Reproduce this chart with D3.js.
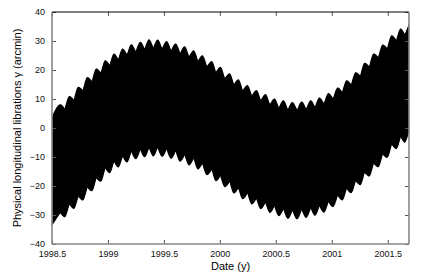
<!DOCTYPE html>
<html>
<head>
<meta charset="utf-8">
<script src="https://cdn.jsdelivr.net/npm/d3@7"></script>
<style>
body { margin: 0; background: #fff; }
text { font-family: "Liberation Sans", Arial, sans-serif; }
</style>
</head>
<body>
<div id="chart"></div>
<script>
// monthly maxima of the top edge / minima spikes of the bottom edge
var peakDates = [1998.574, 1998.655, 1998.735, 1998.816, 1998.896, 1998.976,
  1999.054, 1999.131, 1999.209, 1999.289, 1999.367, 1999.444, 1999.524, 1999.605,
  1999.685, 1999.766, 1999.843, 1999.927, 2000.004, 2000.087, 2000.165, 2000.246,
  2000.326, 2000.407, 2000.487, 2000.568, 2000.648, 2000.731, 2000.812, 2000.889,
  2000.970, 2001.053, 2001.133, 2001.214, 2001.294, 2001.375, 2001.455, 2001.536,
  2001.616, 2001.69];
var upperPeaks = [8.2, 11.0, 14.2, 17.6, 20.5, 23.4, 25.7, 27.4, 28.9, 29.7,
  30.6, 30.5, 30.0, 29.1, 28.2, 26.8, 25.1, 23.1, 21.1, 18.9,
  16.8, 14.8, 13.1, 11.7, 10.2, 9.6, 9.0, 9.1, 9.6, 10.5,
  12.1, 14.0, 16.5, 19.2, 22.5, 25.7, 28.8, 32.0, 34.3, 36.0];
var lowerSpikes = [-29.4, -26.5, -23.7, -20.6, -17.4, -14.0, -11.6, -9.9, -8.3, -7.6,
  -7.0, -6.9, -7.4, -8.1, -9.5, -10.6, -12.4, -14.5, -16.6, -18.6,
  -20.9, -22.6, -24.5, -25.9, -27.1, -28.1, -28.6, -28.3, -27.8, -27.1,
  -25.6, -23.4, -21.0, -18.4, -15.4, -12.3, -9.1, -5.8, -3.2, -1.4];

// dates between the monthly maxima
var notchDates = [1998.5, 1998.614, 1998.695, 1998.775, 1998.856, 1998.936,
  1999.015, 1999.092, 1999.170, 1999.249, 1999.328, 1999.405, 1999.484, 1999.564,
  1999.645, 1999.725, 1999.804, 1999.885, 1999.965, 2000.045, 2000.126, 2000.205,
  2000.286, 2000.366, 2000.447, 2000.527, 2000.608, 2000.690, 2000.771, 2000.850,
  2000.930, 2001.011, 2001.093, 2001.173, 2001.254, 2001.334, 2001.415, 2001.495,
  2001.576, 2001.652];
var upperNotches = [4.0, 6.8, 9.8, 13.1, 16.2, 19.2, 21.8, 23.8, 25.4, 26.5,
  27.4, 27.8, 27.5, 26.8, 25.9, 24.7, 23.2, 21.3, 19.3, 17.2,
  15.1, 13.0, 11.2, 9.6, 8.2, 7.1, 6.5, 6.3, 6.6, 7.3,
  8.5, 10.3, 12.5, 15.1, 18.1, 21.3, 24.5, 27.6, 30.4, 32.4];
var lowerBulges = [-33.7, -30.8, -27.9, -25.0, -21.8, -18.5, -15.6, -13.6, -11.9, -10.8,
  -10.1, -9.8, -9.9, -10.6, -11.6, -12.9, -14.3, -16.3, -18.4, -20.4,
  -22.6, -24.6, -26.4, -28.0, -29.3, -30.4, -31.3, -31.5, -31.0, -30.3,
  -29.2, -27.3, -25.0, -22.5, -19.7, -16.7, -13.5, -10.3, -7.3, -5.1];

var xTicks = [1998.5, 1999, 1999.5, 2000, 2000.5, 2001, 2001.5];
var yTicks = [-40, -30, -20, -10, 0, 10, 20, 30, 40];

var svg = d3.select("#chart")
  .append("svg")
  .attr("width", 425)
  .attr("height", 273);

var margin = {top: 12, right: 16, bottom: 29, left: 52},
  width = 425 - margin.left - margin.right,
  height = 273 - margin.top - margin.bottom;

var x = d3.scaleLinear().domain([1998.5, 2001.69]).range([0, width]);
var y = d3.scaleLinear().domain([-40, 40]).range([height, 0]);

var g = svg.append("g").attr("transform", "translate(" + margin.left + "," + margin.top + ")");

// build the two edges: notch, peak, notch, peak ...
var upper = [], lower = [];
notchDates.forEach(function(d, i) {
  upper.push([d, upperNotches[i]]);
  upper.push([peakDates[i], upperPeaks[i]]);
  lower.push([d, lowerBulges[i]]);
  lower.push([peakDates[i], lowerSpikes[i]]);
});

var line = d3.line()
  .x(function(d) { return x(d[0]); })
  .y(function(d) { return y(d[1]); });

var capLine = d3.line()
  .x(function(d) { return x(d[0]); })
  .y(function(d) { return y(d[1]); })
  .curve(d3.curveMonotoneX);

var band = g.append("g").attr("fill", "#000");

band.append("path")
  .attr("d", line(upper.concat(lower.slice().reverse())) + "Z");

// rounded caps on top (around each peak)
for (var i = 0; i < peakDates.length - 1; i++) {
  var tri = [[notchDates[i], upperNotches[i]], [peakDates[i], upperPeaks[i]], [notchDates[i + 1], upperNotches[i + 1]]];
  band.append("path").attr("d", capLine(tri) + "Z");
}
// rounded caps at the bottom (around each bulge)
for (var j = 1; j < notchDates.length; j++) {
  var tri2 = [[peakDates[j - 1], lowerSpikes[j - 1]], [notchDates[j], lowerBulges[j]], [peakDates[j], lowerSpikes[j]]];
  band.append("path").attr("d", capLine(tri2) + "Z");
}

// axes, gnuplot-like inward ticks
var xAxis = g.append("g")
  .attr("class", "axis")
  .attr("transform", "translate(0," + height + ")")
  .call(d3.axisBottom(x).tickValues(xTicks).tickSizeInner(-4).tickSizeOuter(0).tickPadding(7)
    .tickFormat(function(d) { return d; }));

var yAxis = g.append("g")
  .attr("class", "axis")
  .call(d3.axisLeft(y).tickValues(yTicks).tickSizeInner(-4).tickSizeOuter(0).tickPadding(7));

g.append("g")
  .attr("class", "axis")
  .call(d3.axisTop(x).tickValues(xTicks).tickSizeInner(-4).tickSizeOuter(0).tickFormat(""));

g.append("g")
  .attr("class", "axis")
  .attr("transform", "translate(" + width + ",0)")
  .call(d3.axisRight(y).tickValues(yTicks).tickSizeInner(-4).tickSizeOuter(0).tickFormat(""));

g.selectAll(".axis .domain").remove();
g.selectAll(".axis line").attr("stroke", "#555");
g.selectAll(".axis text").attr("font-size", "9px").attr("fill", "#111")
  .style("font-family", "'Liberation Sans', Arial, sans-serif");

// frame
g.append("line").attr("x1", 0).attr("x2", width).attr("y1", 0).attr("y2", 0)
  .attr("stroke", "#000").attr("stroke-width", 1);
g.append("line").attr("x1", 0).attr("x2", 0).attr("y1", 0).attr("y2", height)
  .attr("stroke", "#888").attr("stroke-width", 1.6);
g.append("line").attr("x1", width).attr("x2", width).attr("y1", 0).attr("y2", height)
  .attr("stroke", "#888").attr("stroke-width", 1.6);
g.append("line").attr("x1", 0).attr("x2", width).attr("y1", height).attr("y2", height)
  .attr("stroke", "#888").attr("stroke-width", 1.6);

svg.append("text")
  .attr("x", margin.left + width / 2)
  .attr("y", 270)
  .attr("text-anchor", "middle")
  .attr("font-size", "11px")
  .text("Date (y)");

svg.append("text")
  .attr("transform", "translate(21," + (margin.top + height / 2) + ") rotate(-90)")
  .attr("text-anchor", "middle")
  .attr("font-size", "11px")
  .text("Physical longitudinal librations γ (arcmin)");
</script>
</body>
</html>
